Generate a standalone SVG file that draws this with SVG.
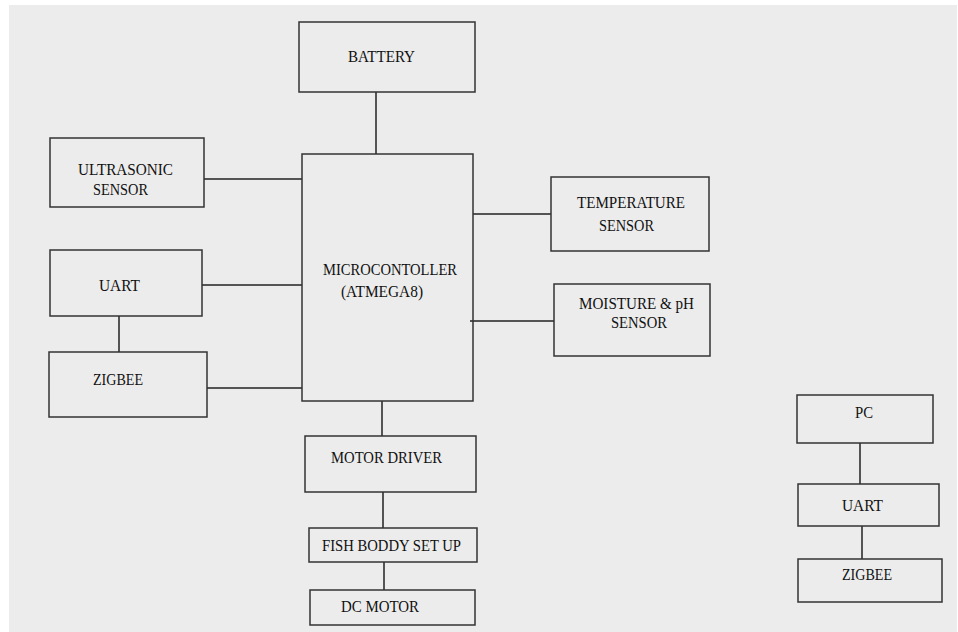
<svg xmlns="http://www.w3.org/2000/svg" width="958" height="632" viewBox="0 0 958 632">
<style>
.box{fill:none;stroke:#333;stroke-width:1.5}
.ln{stroke:#222;stroke-width:1.5;fill:none}
.t{font-family:'Liberation Serif','Times New Roman','DejaVu Serif',serif;font-size:17px;fill:#111}
.s{font-size:16px}
</style>
<rect x="0" y="0" width="958" height="632" fill="#ffffff"/>
<rect x="9" y="5" width="948" height="627" fill="#ececec"/>
<g id="connectors">
<line class="ln" x1="376" y1="92" x2="376" y2="154"/>
<line class="ln" x1="204" y1="179" x2="302" y2="179"/>
<line class="ln" x1="202" y1="285" x2="302" y2="285"/>
<line class="ln" x1="119" y1="316" x2="119" y2="352"/>
<line class="ln" x1="207" y1="388" x2="302" y2="388"/>
<line class="ln" x1="473" y1="214" x2="551" y2="214"/>
<line class="ln" x1="470" y1="321" x2="554" y2="321"/>
<line class="ln" x1="382" y1="401" x2="382" y2="436"/>
<line class="ln" x1="383" y1="492" x2="383" y2="528"/>
<line class="ln" x1="384" y1="562" x2="384" y2="590"/>
<line class="ln" x1="860" y1="443" x2="860" y2="484"/>
<line class="ln" x1="862" y1="526" x2="862" y2="559"/>
</g>
<g id="battery"><rect class="box" x="299" y="22" width="176" height="70"/><text class="t" x="348" y="62" textLength="67" lengthAdjust="spacingAndGlyphs">BATTERY</text></g>
<g id="ultrasonic"><rect class="box" x="50" y="138" width="154" height="69"/><text class="t" x="78" y="175" textLength="95" lengthAdjust="spacingAndGlyphs">ULTRASONIC</text><text class="t" x="93" y="195" textLength="55" lengthAdjust="spacingAndGlyphs">SENSOR</text></g>
<g id="mcu"><rect class="box" x="302" y="154" width="171" height="247"/><text class="t" x="323" y="275" textLength="134" lengthAdjust="spacingAndGlyphs">MICROCONTOLLER</text><text class="t" x="341" y="297" textLength="82" lengthAdjust="spacingAndGlyphs">(ATMEGA8)</text></g>
<g id="uart1"><rect class="box" x="50" y="250" width="152" height="66"/><text class="t" x="99" y="291" textLength="41" lengthAdjust="spacingAndGlyphs">UART</text></g>
<g id="zigbee1"><rect class="box" x="49" y="352" width="158" height="65"/><text class="t" x="93" y="385" textLength="50" lengthAdjust="spacingAndGlyphs">ZIGBEE</text></g>
<g id="temperature"><rect class="box" x="551" y="177" width="158" height="74"/><text class="t" x="577" y="208" textLength="108" lengthAdjust="spacingAndGlyphs">TEMPERATURE</text><text class="t" x="599" y="231" textLength="55" lengthAdjust="spacingAndGlyphs">SENSOR</text></g>
<g id="moisture"><rect class="box" x="554" y="284" width="156" height="72"/><text class="t s" x="579" y="309" textLength="115" lengthAdjust="spacingAndGlyphs">MOISTURE &amp; pH</text><text class="t s" x="611" y="328" textLength="56" lengthAdjust="spacingAndGlyphs">SENSOR</text></g>
<g id="motordriver"><rect class="box" x="305" y="436" width="171" height="56"/><text class="t" x="331" y="463" textLength="111" lengthAdjust="spacingAndGlyphs">MOTOR DRIVER</text></g>
<g id="fishbody"><rect class="box" x="309" y="528" width="168" height="34"/><text class="t" x="322" y="551" textLength="139" lengthAdjust="spacingAndGlyphs">FISH BODDY SET UP</text></g>
<g id="dcmotor"><rect class="box" x="310" y="590" width="165" height="35"/><text class="t" x="341" y="612" textLength="78" lengthAdjust="spacingAndGlyphs">DC MOTOR</text></g>
<g id="pc"><rect class="box" x="797" y="395" width="136" height="48"/><text class="t" x="855" y="418" textLength="18" lengthAdjust="spacingAndGlyphs">PC</text></g>
<g id="uart2"><rect class="box" x="798" y="484" width="141" height="42"/><text class="t" x="842" y="511" textLength="41" lengthAdjust="spacingAndGlyphs">UART</text></g>
<g id="zigbee2"><rect class="box" x="798" y="559" width="144" height="43"/><text class="t" x="842" y="580" textLength="50" lengthAdjust="spacingAndGlyphs">ZIGBEE</text></g>
</svg>
